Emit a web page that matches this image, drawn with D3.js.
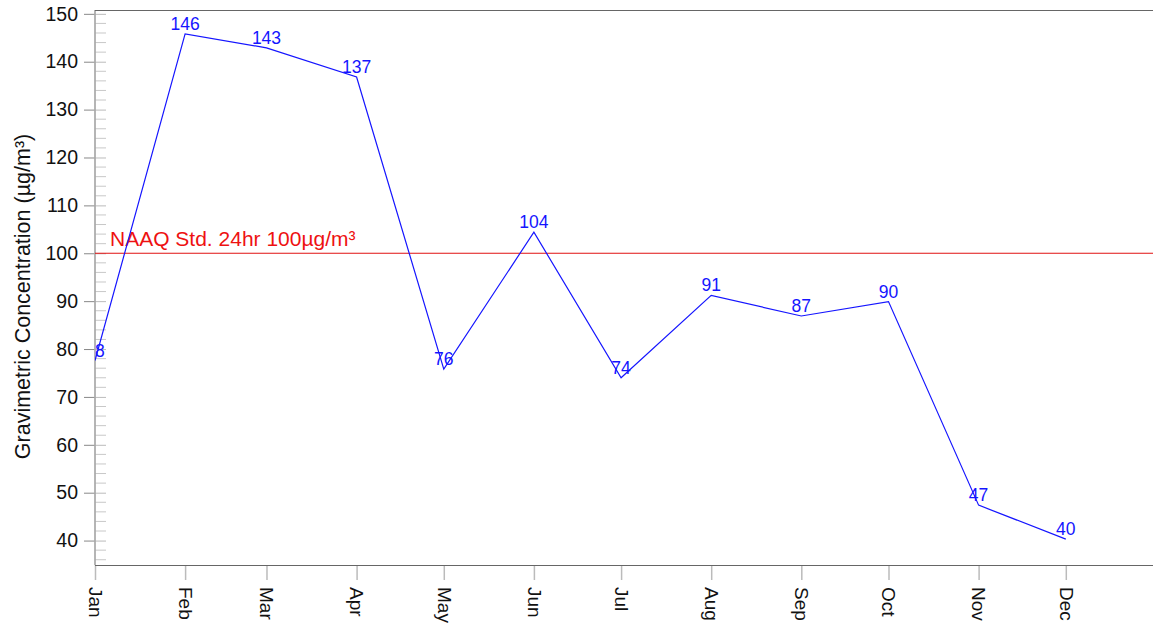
<!DOCTYPE html>
<html><head><meta charset="utf-8">
<script src="https://cdn.jsdelivr.net/npm/d3@7"></script>
<style>body{margin:0;background:#fff;} svg{display:block;font-family:"Liberation Sans",Arial,sans-serif;}</style>
</head><body>
<svg id="c" width="1153" height="626"></svg>
<script>
const months = ["Jan","Feb","Mar","Apr","May","Jun","Jul","Aug","Sep","Oct","Nov","Dec"];
const values = [77.6,145.8,142.9,136.8,75.8,104.4,74.0,91.2,86.9,89.9,47.4,40.3];
const yTicks = [40,50,60,70,80,90,100,110,120,130,140,150];
const standardValue = 100;
const standardLabel = "NAAQ Std. 24hr 100µg/m³";
const yTitle = "Gravimetric Concentration (µg/m³)";
const year = 2019;

const svg = d3.select("#c");
const L = 95, R = 1153, T = 10, B = 565;
const x = d3.scaleTime().domain([new Date(year,0,1), new Date(year,11,31)]).range([L, R]);
const y = d3.scaleLinear().domain([34.9, 150.8]).range([B, T]);
const dates = months.map((m,i)=>new Date(year,i,1));
const data = dates.map((d,i)=>({d, v: values[i]}));

svg.append("defs").append("clipPath").attr("id","clip")
  .append("rect").attr("x",L).attr("y",0).attr("width",R-L).attr("height",B);

// minor y ticks
const minor = d3.range(36, 151, 2).filter(v => v % 10 !== 0);
svg.append("g").selectAll("line").data(minor).join("line")
  .attr("x1",L).attr("x2",L+11).attr("y1",d=>y(d)).attr("y2",d=>y(d))
  .attr("stroke","#c8c8c8").attr("stroke-width",1);

// y axis
const yAxis = svg.append("g").attr("transform",`translate(${L},0)`)
  .call(d3.axisLeft(y).tickValues(yTicks).tickSize(11).tickPadding(6).tickFormat(d3.format("d")));
yAxis.select(".domain").remove();
yAxis.selectAll(".tick line").attr("stroke","#888");
yAxis.selectAll(".tick").append("line").attr("x1",0).attr("x2",11).attr("stroke","#bbb");
yAxis.selectAll("text").attr("font-size",19.5).attr("fill","#111").attr("font-family","Liberation Sans, Arial, sans-serif");
svg.append("line").attr("x1",L).attr("x2",L).attr("y1",T).attr("y2",B)
  .attr("stroke","#a8a8a8").attr("stroke-width",1.7);

// top border
svg.append("line").attr("x1",L).attr("x2",R).attr("y1",T+0.5).attr("y2",T+0.5).attr("stroke","#666");

// x axis
const xAxis = svg.append("g").attr("transform",`translate(0,${B})`)
  .call(d3.axisBottom(x).tickValues(dates).tickSize(15).tickFormat((d,i)=>months[i]));
xAxis.select(".domain").remove();
xAxis.selectAll(".tick line").attr("stroke","#bbb").attr("stroke-width",1.5);
xAxis.selectAll("text").attr("font-size",19).attr("fill","#111")
  .attr("font-family","Liberation Sans, Arial, sans-serif")
  .attr("text-anchor","start").attr("transform","rotate(90)")
  .attr("x",22).attr("y",0).attr("dy","0.35em");
svg.append("line").attr("x1",L).attr("x2",R).attr("y1",B+0.5).attr("y2",B+0.5).attr("stroke","#666");

// standard line
svg.append("line").attr("x1",L).attr("x2",R).attr("y1",y(standardValue)).attr("y2",y(standardValue))
  .attr("stroke","#e01010").attr("stroke-width",1.2);
svg.append("text").attr("x",L+15).attr("y",y(standardValue)-7).text(standardLabel)
  .attr("fill","#ee1111").attr("font-size",21);

// y title
svg.append("text").attr("transform",`translate(30,${(T+B)/2+9}) rotate(-90)`)
  .attr("text-anchor","middle").attr("font-size",21.5).attr("fill","#111").text(yTitle);

// data line
const g = svg.append("g").attr("clip-path","url(#clip)");
g.append("path").datum(data)
  .attr("d", d3.line().x(d=>x(d.d)).y(d=>y(d.v)))
  .attr("fill","none").attr("stroke","#1515ff").attr("stroke-width",1.2);
g.selectAll("text.lbl").data(data).join("text").attr("class","lbl")
  .attr("x",d=>x(d.d)).attr("y",d=>y(d.v)-4).attr("text-anchor","middle")
  .attr("font-size",17.5).attr("fill","#1515ff").text(d=>Math.round(d.v));
</script>
</body></html>
